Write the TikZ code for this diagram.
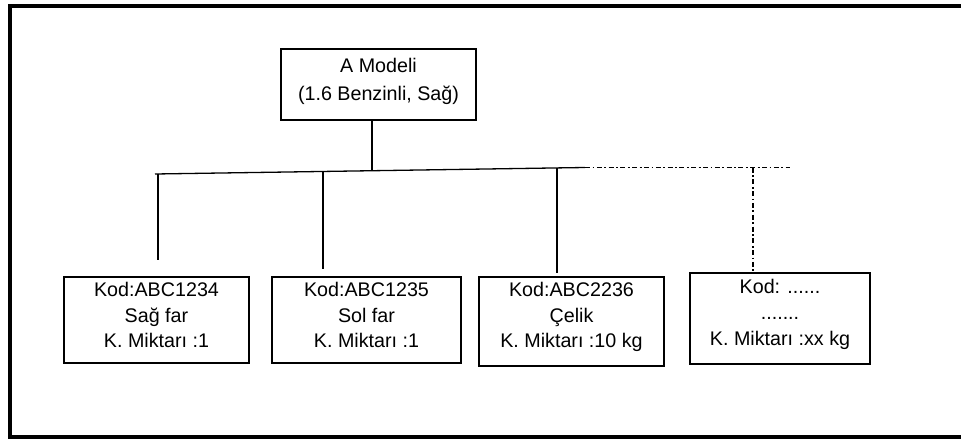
\documentclass[tikz,border=0pt]{standalone}
\usepackage{fontspec}
\setmainfont{Liberation Sans}
\begin{document}
\begin{tikzpicture}[x=1pt,y=-1pt,
  frame/.style={draw, line width=1.4pt, inner sep=0pt},
  txt/.style={align=center, inner sep=0pt, font=\fontsize{19.7}{25.8}\selectfont},
  conn/.style={line width=1.3pt},
  dconn/.style={line width=1.5pt, dash pattern=on 5pt off 2.5pt on 1.8pt off 2.5pt}]
\useasboundingbox (0,0) rectangle (961,439);
\draw[line width=4pt] (970,6) -- (10,6) -- (10,437) -- (970,437);

% top node
\node[frame, minimum width=195pt, minimum height=71pt] (top) at (378.5,84.5) {};
\node[txt, yshift=3pt] (toptxt) at (top.center) {A Modeli\\[2pt](1.6 Benzinli, Sağ)};

% bottom nodes
\node[frame, minimum width=185pt, minimum height=86pt] (b1) at (156.5,320) {};
\node[txt, yshift=5pt] (b1txt) at (b1.center) {Kod:ABC1234\\Sağ far\\K. Miktarı :1};
\node[frame, minimum width=189pt, minimum height=86pt] (b2) at (366.5,320) {};
\node[txt, yshift=5pt] (b2txt) at (b2.center) {Kod:ABC1235\\Sol far\\K. Miktarı :1};
\node[frame, minimum width=185pt, minimum height=89pt] (b3) at (571.5,321.5) {};
\node[txt, yshift=4.5pt] (b3txt) at (b3.center) {Kod:ABC2236\\Çelik\\K. Miktarı :10 kg};
\node[frame, minimum width=180pt, minimum height=91pt] (b4) at (780,318.5) {};
\node[txt, yshift=4pt] (b4txt) at (b4.center) {Kod: ......\\.......\\K. Miktarı :xx kg};

% connector coordinates
\coordinate (hl) at (155,174);
\coordinate (hr) at (585,167.5);
\coordinate (stem) at (372,169.5);
\coordinate (d1t) at (158,173.8);
\coordinate (d1b) at (158,260);
\coordinate (d2t) at (323,171.4);
\coordinate (d2b) at (323,269);
\coordinate (d3t) at (557,168);
\coordinate (d3b) at (557,273);
\coordinate (dr) at (790,167.5);
\coordinate (d4t) at (753,167.5);

\draw[conn] (top.south -| stem) -- (stem);
\draw[conn] (hl) -- (hr);
\draw[conn] (d1t) -- (d1b);
\draw[conn] (d2t) -- (d2b);
\draw[conn] (d3t) -- (d3b);
\draw[dconn] (hr) -- (dr);
\draw[dconn] (d4t) -- (d4t |- b4.north);
\end{tikzpicture}
\end{document}
